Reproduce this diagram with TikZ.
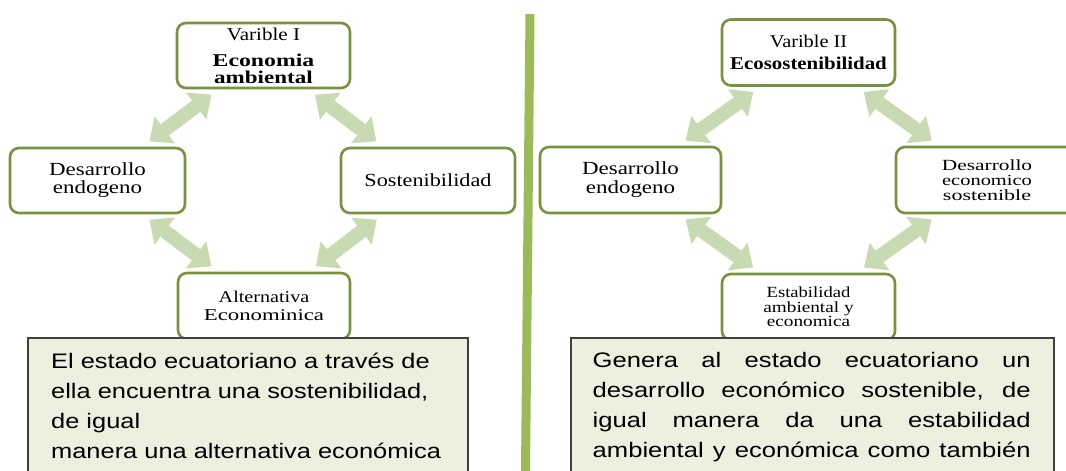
\documentclass[tikz,border=0pt]{standalone}
\usepackage{fontspec}
\setmainfont{Liberation Serif}
\newfontfamily\sansf{Liberation Sans}
\usepackage{graphicx}
\usetikzlibrary{arrows.meta}
\definecolor{boxgreen}{HTML}{77933C}
\definecolor{arrowgreen}{HTML}{C8DAB2}
\definecolor{divgreen}{HTML}{9BBB59}
\definecolor{notefill}{HTML}{EBF1DE}
\definecolor{noteline}{HTML}{404040}
\newcommand{\hs}[2]{\scalebox{#1}[1]{#2}}
\begin{document}
\begin{tikzpicture}[x=1pt,y=-1pt,
  gbox/.style={draw=boxgreen, line width=2.6pt, rounded corners=9pt, fill=white,
    inner sep=0pt, align=center, text=black},
  bigarrow/.style={draw=arrowgreen, line width=14pt,
    {Triangle[width=34pt,length=19pt,line width=0pt]}-{Triangle[width=34pt,length=19pt,line width=0pt]},
    shorten <=9pt, shorten >=9pt},
  note/.style={draw=noteline, line width=1.5pt, fill=notefill, inner sep=0pt, anchor=north west},
  notetext/.style={inner sep=0pt, anchor=base west, text=black, font=\sansf\fontsize{21}{30}\selectfont},
  divider/.style={draw=divgreen, line width=9pt}
]
\useasboundingbox (0,0) rectangle (1066,471);
\clip (0,0) rectangle (1066,471);

% divider
\draw[divider] (530,14) -- (525.5,471);

% left panel boxes
\node[gbox, minimum width=173pt, minimum height=65pt, font=\fontsize{18}{17}\selectfont]
  (lt) at (263.5,55.5) {\hs{1.17}{Varible I}\\[9pt]\textbf{\hs{1.32}{Economia}}\\\textbf{\hs{1.28}{ambiental}}};
\node[gbox, minimum width=175pt, minimum height=65pt, font=\fontsize{18.5}{18}\selectfont]
  (ll) at (97.5,180.5) {\hs{1.24}{Desarrollo}\\\hs{1.24}{endogeno}};
\node[gbox, minimum width=174pt, minimum height=65pt, font=\fontsize{18.5}{18}\selectfont]
  (lr) at (428,180.5) {\hs{1.2}{Sostenibilidad}};
\node[gbox, minimum width=172pt, minimum height=66pt, font=\fontsize{16.5}{18}\selectfont]
  (lb) at (264,306) {\hs{1.22}{Alternativa}\\\hs{1.38}{Econominica}};

% right panel boxes
\node[gbox, minimum width=173pt, minimum height=66pt, font=\fontsize{18}{18}\selectfont]
  (rt) at (808.5,52.5) {\hs{1.13}{Varible II}\\[4pt]\textbf{\hs{1.16}{Ecosostenibilidad}}};
\node[gbox, minimum width=181pt, minimum height=66pt, font=\fontsize{18.5}{19}\selectfont]
  (rl) at (630.5,180) {\hs{1.24}{Desarrollo}\\\hs{1.24}{endogeno}};
\node[gbox, minimum width=182pt, minimum height=66pt, font=\fontsize{15.5}{15}\selectfont]
  (rr) at (987,180) {\hs{1.38}{Desarrollo}\\\hs{1.32}{economico}\\\hs{1.42}{sostenible}};
\node[gbox, minimum width=173pt, minimum height=66pt, font=\fontsize{15.5}{14.5}\selectfont]
  (rb) at (808.5,307) {\hs{1.2}{Estabilidad}\\\hs{1.24}{ambiental y}\\\hs{1.24}{economica}};

% arrows
\draw[bigarrow] (lt) -- (ll);
\draw[bigarrow] (lt) -- (lr);
\draw[bigarrow] (ll) -- (lb);
\draw[bigarrow] (lr) -- (lb);
\draw[bigarrow] (rt) -- (rl);
\draw[bigarrow] (rt) -- (rr);
\draw[bigarrow] (rl) -- (rb);
\draw[bigarrow] (rr) -- (rb);

% note boxes
\node[note, minimum width=440pt, minimum height=160pt] (lnote) at (27,337) {};
\node[note, minimum width=483pt, minimum height=160pt] (rnote) at (570,337) {};

\node[notetext] (l1) at (51,368) {\hs{1.21}{El estado ecuatoriano a través de}};
\node[notetext] (l2) at (51,398) {\hs{1.21}{ella encuentra una sostenibilidad,}};
\node[notetext] (l3) at (51,428) {\hs{1.21}{de igual}};
\node[notetext] (l4) at (51,458) {\hs{1.21}{manera una alternativa económica}};

\node[notetext] (r1) at (592.5,367) {\hs{1.22}{\makebox[359pt][s]{Genera al estado ecuatoriano un}}};
\node[notetext] (r2) at (592.5,397) {\hs{1.22}{\makebox[359pt][s]{desarrollo económico sostenible, de}}};
\node[notetext] (r3) at (592.5,427) {\hs{1.22}{\makebox[359pt][s]{igual manera da una estabilidad}}};
\node[notetext] (r4) at (592.5,457) {\hs{1.22}{\makebox[359pt][s]{ambiental y económica como también}}};
\end{tikzpicture}
\end{document}
